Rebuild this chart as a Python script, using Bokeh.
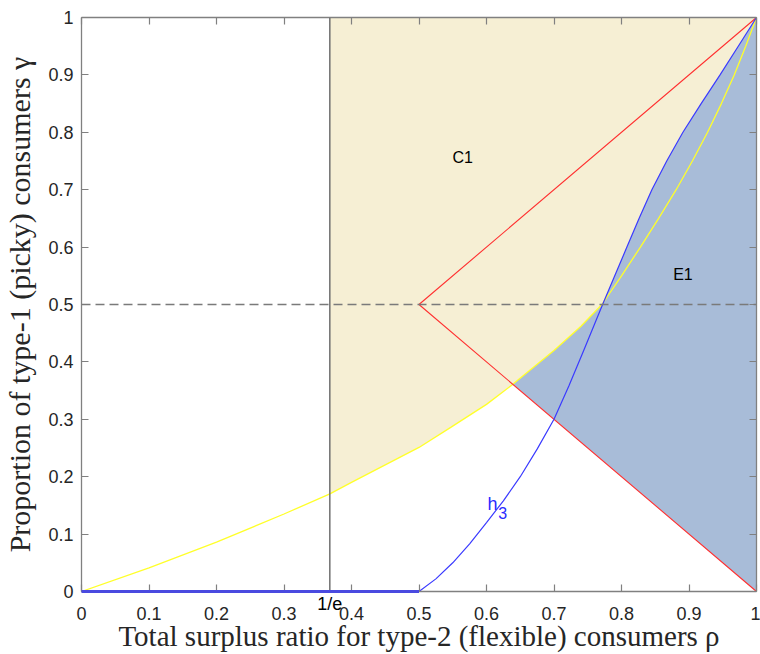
import numpy as np
from bokeh.plotting import figure
from bokeh.models import Range1d, LinearAxis, FixedTicker, Span
from bokeh.core.properties import value
from bokeh.embed import file_html
from bokeh.resources import INLINE

# ---- data ----
rho_yellow = [0, 0.1, 0.2, 0.3, 0.368, 0.4, 0.5, 0.547, 0.6, 0.638, 0.7, 0.74, 0.771, 0.80, 0.828,
              0.855, 0.881, 0.905, 0.9275, 0.948, 0.967, 0.984, 1.0]
gamma_yellow = [0, 0.041, 0.086, 0.135, 0.17, 0.19, 0.251, 0.286, 0.326, 0.36, 0.42, 0.462, 0.5, 0.55, 0.6,
                0.65, 0.7, 0.75, 0.8, 0.85, 0.9, 0.95, 1.0]

rho_h3 = [0, 0.5, 0.525, 0.55, 0.575, 0.6, 0.625, 0.65, 0.675, 0.7, 0.722, 0.744, 0.772, 0.79, 0.808,
          0.826, 0.845, 0.867, 0.891, 0.918, 0.946, 0.973, 1.0]
gamma_h3 = [0, 0, 0.022, 0.05, 0.083, 0.12, 0.158, 0.2, 0.248, 0.30, 0.358, 0.42, 0.5, 0.55, 0.6,
            0.65, 0.7, 0.75, 0.8, 0.85, 0.9, 0.95, 1.0]

rho_red = [1.0, 0.5, 1.0]
gamma_red = [1.0, 0.5, 0.0]

inv_e = 1 / np.e
gamma_dashed = 0.5

x_ticks = [i / 10 for i in range(11)]
x_tick_labels = ["0", "0.1", "0.2", "0.3", "0.4", "0.5", "0.6", "0.7", "0.8", "0.9", "1"]
y_ticks = [i / 10 for i in range(11)]
y_tick_labels = ["0", "0.1", "0.2", "0.3", "0.4", "0.5", "0.6", "0.7", "0.8", "0.9", "1"]
inv_e_label = "1/e"

region_labels = ["C1", "E1"]
region_x = [0.5646, 0.891]
region_y = [0.7554, 0.553]

# ---- figure ----
AX = "#808080"
TXT = "#262626"
p = figure(width=760, height=654, output_backend="svg", toolbar_location=None,
           x_range=Range1d(0, 1), y_range=Range1d(0, 1), x_axis_location=None,
           min_border_left=80, min_border_right=4, min_border_top=17, min_border_bottom=62)
p.outline_line_color = None
p.xgrid.visible = False
p.ygrid.visible = False
p.background_fill_color = "white"
p.border_fill_color = "white"

# C1 region (beige): from yellow curve up to 1 for rho >= 1/e
xs_c = np.array([inv_e] + [r for r in rho_yellow if r > inv_e])
p.varea(x=xs_c, y1=np.interp(xs_c, rho_yellow, gamma_yellow), y2=np.ones_like(xs_c),
        fill_color="#f6efd4")

# E1 region (blue): above lower red line, below max(yellow, h3)
xs_e = np.linspace(0.5, 1.0, 1001)
lower = np.interp(xs_e, rho_red[1:], gamma_red[1:])
upper = np.maximum(np.interp(xs_e, rho_yellow, gamma_yellow), np.interp(xs_e, rho_h3, gamma_h3))
p.varea(x=xs_e, y1=lower, y2=np.maximum(upper, lower), fill_color="#a8bcd8")

# lines
p.line(rho_yellow, gamma_yellow, line_color="#ffff2a", line_width=1.3)
p.line(rho_red, gamma_red, line_color="#ff3030", line_width=1.1)
p.line(rho_h3, gamma_h3, line_color="#3a3aff", line_width=1.2)
p.line(rho_h3[:2], gamma_h3[:2], line_color="#4a4ae0", line_width=3, level="overlay")

p.add_layout(Span(location=gamma_dashed, dimension="width", line_color="#7a7a7a",
                  line_width=1.5, line_dash="9 5"))
p.add_layout(Span(location=inv_e, dimension="height", line_color="#707070", line_width=1.5))

# texts
p.text(x=region_x, y=region_y, text=region_labels, text_align="center", text_baseline="middle",
       text_font=value("Liberation Sans"), text_font_size="16px", text_color="black")
p.text(x=[0.609], y=[0.1527], text=["h"], text_align="center", text_baseline="middle",
       text_font=value("Liberation Sans"), text_font_size="18px", text_color="#2a2aff")
p.text(x=[0.624], y=[0.1365], text=["3"], text_align="center", text_baseline="middle",
       text_font=value("Liberation Sans"), text_font_size="16px", text_color="#2a2aff")

# axes
def style_axis(ax, ticks, labels, show_labels=True):
    ax.ticker = FixedTicker(ticks=ticks)
    ax.major_label_overrides = dict(zip(ticks, labels))
    ax.minor_tick_line_color = None
    ax.major_tick_in = 7
    ax.major_tick_out = 0
    ax.axis_line_color = AX
    ax.axis_line_width = 1.3
    ax.major_tick_line_color = AX
    ax.major_tick_line_width = 1.2
    ax.major_label_text_font = "Liberation Sans"
    ax.major_label_text_color = TXT
    if show_labels:
        ax.major_label_text_font_size = "18px"
    else:
        ax.major_label_text_font_size = "0px"
        ax.major_label_standoff = 0

# bottom: numeric axis (nearest the frame)
x_axis = LinearAxis()
style_axis(x_axis, x_ticks, x_tick_labels)
x_axis.major_label_standoff = 15
p.add_layout(x_axis, "below")

# bottom: "1/e" label axis, lifted up next to the frame, carrying the axis title
e_axis = LinearAxis()
style_axis(e_axis, [inv_e], [inv_e_label])
e_axis.axis_line_color = None
e_axis.major_tick_line_color = None
e_axis.major_label_standoff = -29
e_axis.major_label_text_color = "black"
e_axis.axis_label = "Total surplus ratio for type-2 (flexible) consumers \u03c1"
e_axis.axis_label_standoff = 3
e_axis.axis_label_text_font_size = "29px"
p.add_layout(e_axis, "below")

y_axis = p.yaxis[0]
style_axis(y_axis, y_ticks, y_tick_labels)
y_axis.major_label_standoff = 8
y_axis.axis_label = "Proportion of type-1 (picky) consumers \u03b3"
y_axis.axis_label_text_font_size = "30px"
y_axis.axis_label_standoff = 9

for ax in (e_axis, y_axis):
    ax.axis_label_text_font = "Liberation Serif"
    ax.axis_label_text_font_style = "normal"
    ax.axis_label_text_color = TXT

top_ax = LinearAxis()
right_ax = LinearAxis()
style_axis(top_ax, x_ticks, x_tick_labels, show_labels=False)
style_axis(right_ax, y_ticks, y_tick_labels, show_labels=False)
p.add_layout(top_ax, "above")
p.add_layout(right_ax, "right")

open("out.html", "w").write(file_html(p, INLINE))
